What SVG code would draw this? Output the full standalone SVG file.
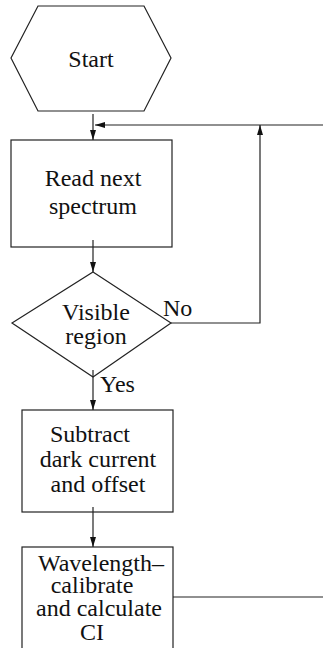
<svg xmlns="http://www.w3.org/2000/svg" width="323" height="648" viewBox="0 0 323 648">
  <style>
    .shape { fill: #fff; stroke: #222; stroke-width: 1.2; }
    .wire { fill: none; stroke: #222; stroke-width: 1.2; }
    .label { font-family: "Liberation Serif", "Times New Roman", serif; font-size: 24px; fill: #111; }
    .mid { text-anchor: middle; }
  </style>
  <defs>
    <marker id="arrow" markerUnits="userSpaceOnUse" markerWidth="11" markerHeight="7" refX="10" refY="3" orient="auto">
      <path d="M0,0 L10,3 L0,6 z" fill="#111"/>
    </marker>
  </defs>

  <!-- connectors -->
  <g id="connectors">
    <line class="wire" x1="93" y1="114" x2="93" y2="140" marker-end="url(#arrow)"/>
    <polyline class="wire" points="323,125 95,125" marker-end="url(#arrow)"/>
    <polyline class="wire" points="171,323 260,323 260,125" marker-end="url(#arrow)"/>
    <line class="wire" x1="93" y1="240" x2="93" y2="272" marker-end="url(#arrow)"/>
    <line class="wire" x1="93" y1="370" x2="93" y2="410" marker-end="url(#arrow)"/>
    <line class="wire" x1="93" y1="507" x2="93" y2="547" marker-end="url(#arrow)"/>
    <line class="wire" x1="173" y1="597" x2="323" y2="597"/>
  </g>

  <!-- start terminator -->
  <g id="start">
    <polygon class="shape" points="38,6 144,6 171,58 144,111 38,111 11,58"/>
    <text class="label mid" x="91" y="67">Start</text>
  </g>

  <!-- read step -->
  <g id="read">
    <rect class="shape" x="11" y="140" width="161" height="107" fill-opacity="0"/>
    <text class="label mid" x="93" y="186">Read next</text>
    <text class="label mid" x="93" y="214">spectrum</text>
  </g>

  <!-- visible-region decision -->
  <g id="visible">
    <polygon class="shape" points="93,272 171,323 93,377 12,323" fill-opacity="0"/>
    <text class="label mid" x="96" y="320">Visible</text>
    <text class="label mid" x="96" y="344">region</text>
    <text class="label" x="163" y="316">No</text>
    <text class="label" x="100" y="392">Yes</text>
  </g>

  <!-- dark-current correction -->
  <g id="subtract">
    <rect class="shape" x="22" y="410" width="151" height="102" fill-opacity="0"/>
    <text class="label mid" x="90" y="442">Subtract</text>
    <text class="label mid" x="98" y="467">dark current</text>
    <text class="label mid" x="98" y="492">and offset</text>
  </g>

  <!-- calibration step -->
  <g id="calibrate">
    <rect class="shape" x="22" y="547" width="151" height="120" fill-opacity="0"/>
    <text class="label mid" x="101" y="571">Wavelength–</text>
    <text class="label mid" x="92" y="593">calibrate</text>
    <text class="label mid" x="99" y="616">and calculate</text>
    <text class="label mid" x="92" y="640">CI</text>
  </g>
</svg>
